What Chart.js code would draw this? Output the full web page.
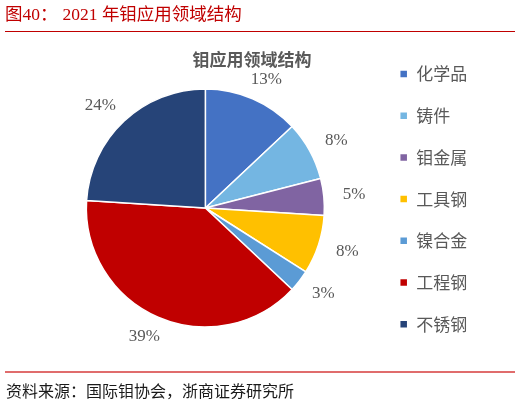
<!DOCTYPE html>
<html>
<head>
<meta charset="utf-8">
<script src="https://cdn.jsdelivr.net/npm/chart.js@4/dist/chart.umd.min.js"></script>
<style>
  html, body { margin: 0; padding: 0; background: #fff; }
  #wrap { position: relative; width: 520px; height: 403px; overflow: hidden; }
  #c { position: absolute; left: 0; top: 0; }
  .t { position: absolute; white-space: nowrap; font-family: "Liberation Serif", "Noto Sans CJK SC", serif; }
  #pageTitle { left: 5px; top: 4px; font-size: 17.5px; color: #C00000; line-height: 20px; }
  #topLine { position: absolute; left: 5px; top: 31px; width: 510px; height: 1px; background: #C00000; }
  #chartTitle { left: 190px; top: 48px; width: 124px; text-align: center; font-family: "Noto Sans CJK SC", sans-serif; font-weight: bold; font-size: 17px; color: #595959; line-height: 22px; }
  #botLine { position: absolute; left: 5px; top: 371px; width: 510px; height: 1.5px; background: #E06C6C; }
  #source { left: 6px; top: 380px; font-size: 16px; color: #1a1a1a; line-height: 20px; font-family: "Noto Sans CJK SC", sans-serif; }
</style>
</head>
<body>
<div id="wrap">
  <canvas id="c" width="520" height="403"></canvas>
  <div class="t" id="pageTitle">图40：<span style="display:inline-block;width:5px"></span>2021 年钼应用领域结构</div>
  <div id="topLine"></div>
  <div class="t" id="chartTitle">钼应用领域结构</div>
  <div id="botLine"></div>
  <div class="t" id="source">资料来源：国际钼协会，浙商证券研究所</div>
</div>
<script>
const categories = ['化学品', '铸件', '钼金属', '工具钢', '镍合金', '工程钢', '不锈钢'];
const shares = [13, 8, 5, 8, 3, 39, 24];
const sliceColors = ['#4472C4', '#74B6E2', '#8064A2', '#FFC000', '#5B9BD5', '#C00000', '#264478'];

const pctLabels = {
  id: 'pctLabels',
  afterDatasetsDraw(chart) {
    const ctx = chart.ctx;
    const meta = chart.getDatasetMeta(0);
    ctx.save();
    ctx.font = '17px "Liberation Serif", serif';
    ctx.fillStyle = '#595959';
    ctx.textAlign = 'center';
    ctx.textBaseline = 'middle';
    meta.data.forEach((arc, i) => {
      const p = arc.getProps(['x', 'y', 'startAngle', 'endAngle', 'outerRadius'], true);
      const a = (p.startAngle + p.endAngle) / 2;
      const txt = shares[i] + '%';
      const w = ctx.measureText(txt).width;
      const h = 14;
      const dx = p.outerRadius + 19;
      const dy = p.outerRadius + 14;
      const cx = p.x + Math.cos(a) * (dx + w / 2);
      const cy = p.y + Math.sin(a) * (dy + h / 2);
      ctx.fillText(txt, cx, cy);
    });
    ctx.restore();
  }
};

new Chart(document.getElementById('c'), {
  type: 'pie',
  data: {
    labels: categories,
    datasets: [{
      data: shares,
      backgroundColor: sliceColors,
      borderColor: '#ffffff',
      borderWidth: 1.5
    }]
  },
  options: {
    responsive: false,
    animation: false,
    devicePixelRatio: 1,
    radius: 119,
    layout: { padding: { left: 35.7, right: 42.8, top: 40.8, bottom: 27.8 } },
    plugins: {
      title: { display: false },
      tooltip: { enabled: false },
      legend: {
        position: 'right',
        align: 'start',
        labels: {
          boxWidth: 8,
          boxHeight: 8,
          padding: 24.7,
          color: '#595959',
          font: { family: '"Noto Sans CJK SC", sans-serif', size: 17 }
        }
      }
    }
  },
  plugins: [pctLabels]
});
</script>
</body>
</html>
